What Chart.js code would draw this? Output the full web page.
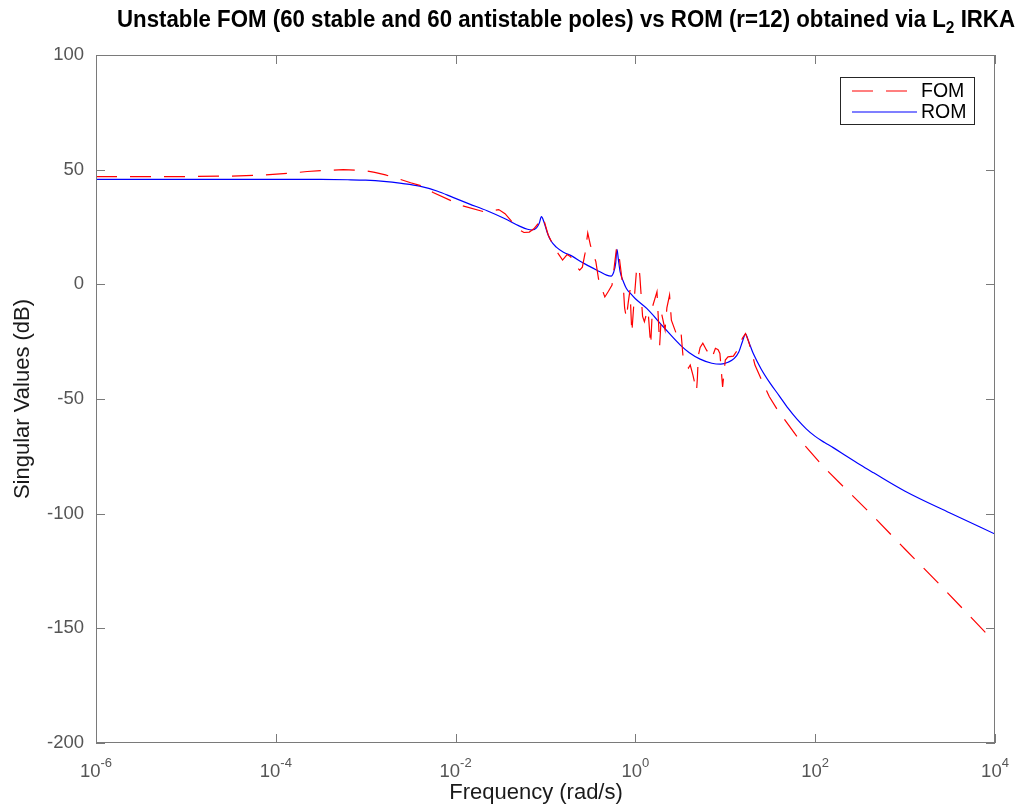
<!DOCTYPE html>
<html><head><meta charset="utf-8">
<script src="https://cdn.jsdelivr.net/npm/chart.js@4.4.0/dist/chart.umd.min.js"></script>
<style>html,body{margin:0;padding:0;background:#fff;}canvas{display:block;}</style>
</head><body>
<canvas id="c" width="1021" height="810"></canvas>
<script>
// ---- Data ----
const titleMain = 'Unstable FOM (60 stable and 60 antistable poles) vs ROM (r=12) obtained via L';
const titleSub = '2';
const titleEnd = ' IRKA';
const xLabel = 'Frequency (rad/s)';
const yLabel = 'Singular Values (dB)';
const seriesNames = ['FOM', 'ROM'];
const xTickExponents = [-6, -4, -2, 0, 2, 4];
const yTickValues = [100, 50, 0, -50, -100, -150, -200];

// log10 of frequency (rad/s) and singular value (dB)
const romLogFreq = [-6, -5, -4, -3.5, -3.2, -3.0, -2.8, -2.6, -2.4, -2.2, -2.03, -1.85, -1.65, -1.45, -1.3, -1.2, -1.15, -1.1, -1.07, -1.045, -1.02, -0.98, -0.94, -0.88, -0.8, -0.7, -0.6, -0.5, -0.4, -0.32, -0.27, -0.24, -0.22, -0.205, -0.19, -0.17, -0.13, -0.1, -0.05, 0.0, 0.126, 0.31, 0.5, 0.6, 0.72, 0.85, 0.95, 1.03, 1.1, 1.15, 1.19, 1.225, 1.26, 1.31, 1.4, 1.5, 1.6, 1.7, 1.8, 1.9, 2.0, 2.1, 2.2, 2.35, 2.5, 2.65, 3.0, 3.5, 4.0];
const romDb = [45.8, 45.8, 45.8, 45.75, 45.6, 45.4, 44.9, 44.0, 42.8, 40.6, 37.9, 35.1, 32.1, 28.6, 25.6, 24.0, 23.7, 24.6, 26.6, 29.5, 27.5, 22.5, 19.0, 16.2, 14.0, 12.2, 9.7, 7.6, 5.6, 4.0, 3.6, 5.5, 9.0, 15.3, 11.0, 5.5, 0.8, -1.8, -4.2, -6.3, -10.5, -18.5, -26.5, -29.8, -32.6, -34.4, -34.8, -34.0, -32.3, -29.5, -25.0, -21.7, -25.0, -30.1, -37.0, -43.2, -48.6, -54.1, -58.9, -63.0, -66.3, -68.9, -71.2, -75.0, -78.7, -82.2, -90.2, -99.7, -108.9];

const fomLogFreq = [-6, -5, -4.5, -4.14, -3.8, -3.65, -3.5, -3.25, -3.1, -3.0, -2.9, -2.78, -2.65, -2.5, -2.33, -2.25, -2.04, -1.92, -1.67, -1.58, -1.52, -1.45, -1.36, -1.30, -1.24, -1.18, -1.13, -1.07, -1.04, -1.01, -0.97, -0.92, -0.87, -0.81, -0.76, -0.72, -0.66, -0.62, -0.59, -0.56, -0.53, -0.50, -0.44, -0.41, -0.34, -0.30, -0.26, -0.21, -0.19, -0.13, -0.12, -0.10, -0.08, -0.06, -0.04, -0.02, 0.01, 0.04, 0.05, 0.08, 0.10, 0.12, 0.14, 0.17, 0.19, 0.24, 0.27, 0.29, 0.33, 0.35, 0.38, 0.40, 0.46, 0.49, 0.51, 0.53, 0.57, 0.59, 0.61, 0.64, 0.68, 0.69, 0.70, 0.72, 0.75, 0.79, 0.85, 0.89, 0.92, 0.94, 0.97, 1.00, 1.03, 1.09, 1.11, 1.15, 1.19, 1.225, 1.26, 1.30, 1.33, 1.42, 1.49, 1.57, 1.61, 1.8, 2.09, 2.65, 3.0, 3.39, 3.94, 4.0];
const fomDb = [47.0, 47.0, 47.2, 47.6, 48.6, 49.2, 49.6, 50.0, 49.8, 49.5, 48.8, 47.7, 46.2, 44.3, 42.4, 40.0, 36.3, 34.2, 31.5, 32.2, 32.6, 30.8, 26.7, 24.0, 22.6, 22.8, 24.2, 27.0, 29.3, 27.0, 21.5, 17.5, 14.0, 10.6, 13.0, 12.0, 8.0, 6.2, 7.5, 13.6, 22.4, 17.0, 9.9, 2.3, -5.5, -3.0, -0.3, 15.8, 15.0, -3.8, -10.3, -14.7, -8.0, -2.5, -21.2, -10.0, 5.0, 7.7, 3.3, -14.0, -16.3, -13.4, -11.2, -26.5, -9.8, -3.2, -26.5, -12.5, -19.9, -10.3, -4.7, -15.6, -22.1, -20.0, -22.1, -31.6, -35.2, -36.5, -35.2, -39.6, -46.5, -40.5, -31.0, -27.5, -25.7, -28.6, -32.3, -27.9, -28.5, -30.1, -44.7, -33.0, -31.6, -31.3, -30.1, -28.0, -23.5, -21.5, -25.0, -30.5, -35.2, -43.2, -49.0, -54.1, -56.3, -66.5, -79.5, -101.3, -115.5, -131.1, -153.7, -156.0];

const toPoints = (lf, v) => lf.map((e, i) => ({ x: Math.pow(10, e), y: v[i] }));

const FONT = '"Liberation Sans", Arial, Helvetica, sans-serif';
const frameColor = '#7a7a7a';
const tickLabelColor = '#555555';

const decorPlugin = {
  id: 'decor',
  afterDraw(chart) {
    const ctx = chart.ctx;
    const a = chart.chartArea;
    const xs = chart.scales.x, ys = chart.scales.y;
    ctx.save();
    // frame
    ctx.strokeStyle = frameColor;
    ctx.lineWidth = 1;
    ctx.strokeRect(Math.round(a.left) + 0.5, Math.round(a.top) + 0.5, Math.round(a.right - a.left) - 1, Math.round(a.bottom - a.top) - 1);
    // ticks (inward)
    const tl = 9;
    ctx.beginPath();
    yTickValues.forEach(v => {
      const py = Math.round(ys.getPixelForValue(v)) + 0.5;
      ctx.moveTo(a.left, py); ctx.lineTo(a.left + tl, py);
      ctx.moveTo(a.right, py); ctx.lineTo(a.right - tl, py);
    });
    xTickExponents.forEach(e => {
      const px = Math.round(xs.getPixelForValue(Math.pow(10, e))) + 0.5;
      ctx.moveTo(px, a.bottom); ctx.lineTo(px, a.bottom - tl);
      ctx.moveTo(px, a.top); ctx.lineTo(px, a.top + tl);
    });
    ctx.stroke();
    // y tick labels
    ctx.fillStyle = tickLabelColor;
    ctx.font = '18.5px ' + FONT;
    ctx.textAlign = 'right';
    ctx.textBaseline = 'middle';
    yTickValues.forEach(v => {
      ctx.fillText(String(v), a.left - 12, ys.getPixelForValue(v));
    });
    // x tick labels: 10^e
    ctx.textBaseline = 'alphabetic';
    ctx.textAlign = 'left';
    xTickExponents.forEach(e => {
      const px = xs.getPixelForValue(Math.pow(10, e));
      ctx.font = '18.5px ' + FONT;
      const wb = ctx.measureText('10').width;
      ctx.font = '13px ' + FONT;
      const es = String(e);
      const we = ctx.measureText(es).width;
      const x0 = px - (wb + we) / 2;
      ctx.font = '18.5px ' + FONT;
      ctx.fillText('10', x0, 777);
      ctx.font = '13px ' + FONT;
      ctx.fillText(es, x0 + wb, 767);
    });
    // axis labels
    ctx.fillStyle = '#1a1a1a';
    ctx.font = '22px ' + FONT;
    ctx.textAlign = 'center';
    ctx.fillText(xLabel, 536, 799);
    ctx.save();
    ctx.translate(29, (a.top + a.bottom) / 2);
    ctx.rotate(-Math.PI / 2);
    ctx.fillText(yLabel, 0, 0);
    ctx.restore();
    // title (bold, condensed)
    ctx.fillStyle = '#000';
    const tf = 'bold 23px ' + FONT, sf = 'bold 16px ' + FONT;
    ctx.font = tf;
    const wA = ctx.measureText(titleMain).width;
    const wC = ctx.measureText(titleEnd).width;
    ctx.font = sf;
    const wS = ctx.measureText(titleSub).width;
    const total = wA + wS + wC;
    const left = 117, right = 1015;
    const sx = (right - left) / total;
    ctx.save();
    ctx.translate(left, 27);
    ctx.scale(sx, 1);
    ctx.textAlign = 'left';
    ctx.font = tf;
    ctx.fillText(titleMain, 0, 0);
    ctx.font = sf;
    ctx.fillText(titleSub, wA, 6);
    ctx.font = tf;
    ctx.fillText(titleEnd, wA + wS, 0);
    ctx.restore();
    // legend
    const lx = 840.5, ly = 77.5, lw = 134, lh = 47;
    ctx.fillStyle = '#fff';
    ctx.fillRect(lx, ly, lw, lh);
    ctx.strokeStyle = '#262626';
    ctx.lineWidth = 1;
    ctx.strokeRect(lx, ly, lw, lh);
    ctx.lineWidth = 1.2;
    ctx.strokeStyle = '#ff0000';
    ctx.setLineDash([21, 13]);
    ctx.beginPath(); ctx.moveTo(852, 91); ctx.lineTo(908, 91); ctx.stroke();
    ctx.setLineDash([]);
    ctx.strokeStyle = '#0000ff';
    ctx.beginPath(); ctx.moveTo(852, 112); ctx.lineTo(917, 112); ctx.stroke();
    ctx.fillStyle = '#000';
    ctx.font = '19.5px ' + FONT;
    ctx.textAlign = 'left';
    ctx.fillText(seriesNames[0], 921, 97);
    ctx.fillText(seriesNames[1], 921, 118);
    ctx.restore();
  }
};

new Chart(document.getElementById('c'), {
  type: 'line',
  data: {
    datasets: [
      {
        label: seriesNames[0],
        data: toPoints(fomLogFreq, fomDb),
        borderColor: '#ff0000',
        borderWidth: 1.2,
        borderDash: [21, 13],
        pointRadius: 0,
        tension: 0,
        fill: false
      },
      {
        label: seriesNames[1],
        data: toPoints(romLogFreq, romDb),
        borderColor: '#0000ff',
        borderWidth: 1.2,
        pointRadius: 0,
        cubicInterpolationMode: 'monotone',
        fill: false
      }
    ]
  },
  options: {
    responsive: false,
    animation: false,
    devicePixelRatio: 1,
    layout: { padding: { top: 55, right: 26, left: 0, bottom: 0 } },
    plugins: { legend: { display: false }, title: { display: false }, tooltip: { enabled: false } },
    scales: {
      x: {
        type: 'logarithmic', min: 1e-6, max: 1e4,
        grid: { display: false }, border: { display: false },
        ticks: { display: false },
        afterFit(s) { s.height = 67; }
      },
      y: {
        type: 'linear', min: -200, max: 100,
        grid: { display: false }, border: { display: false },
        ticks: { display: false, stepSize: 50 },
        afterFit(s) { s.width = 96; }
      }
    }
  },
  plugins: [decorPlugin]
});
</script>
</body></html>
